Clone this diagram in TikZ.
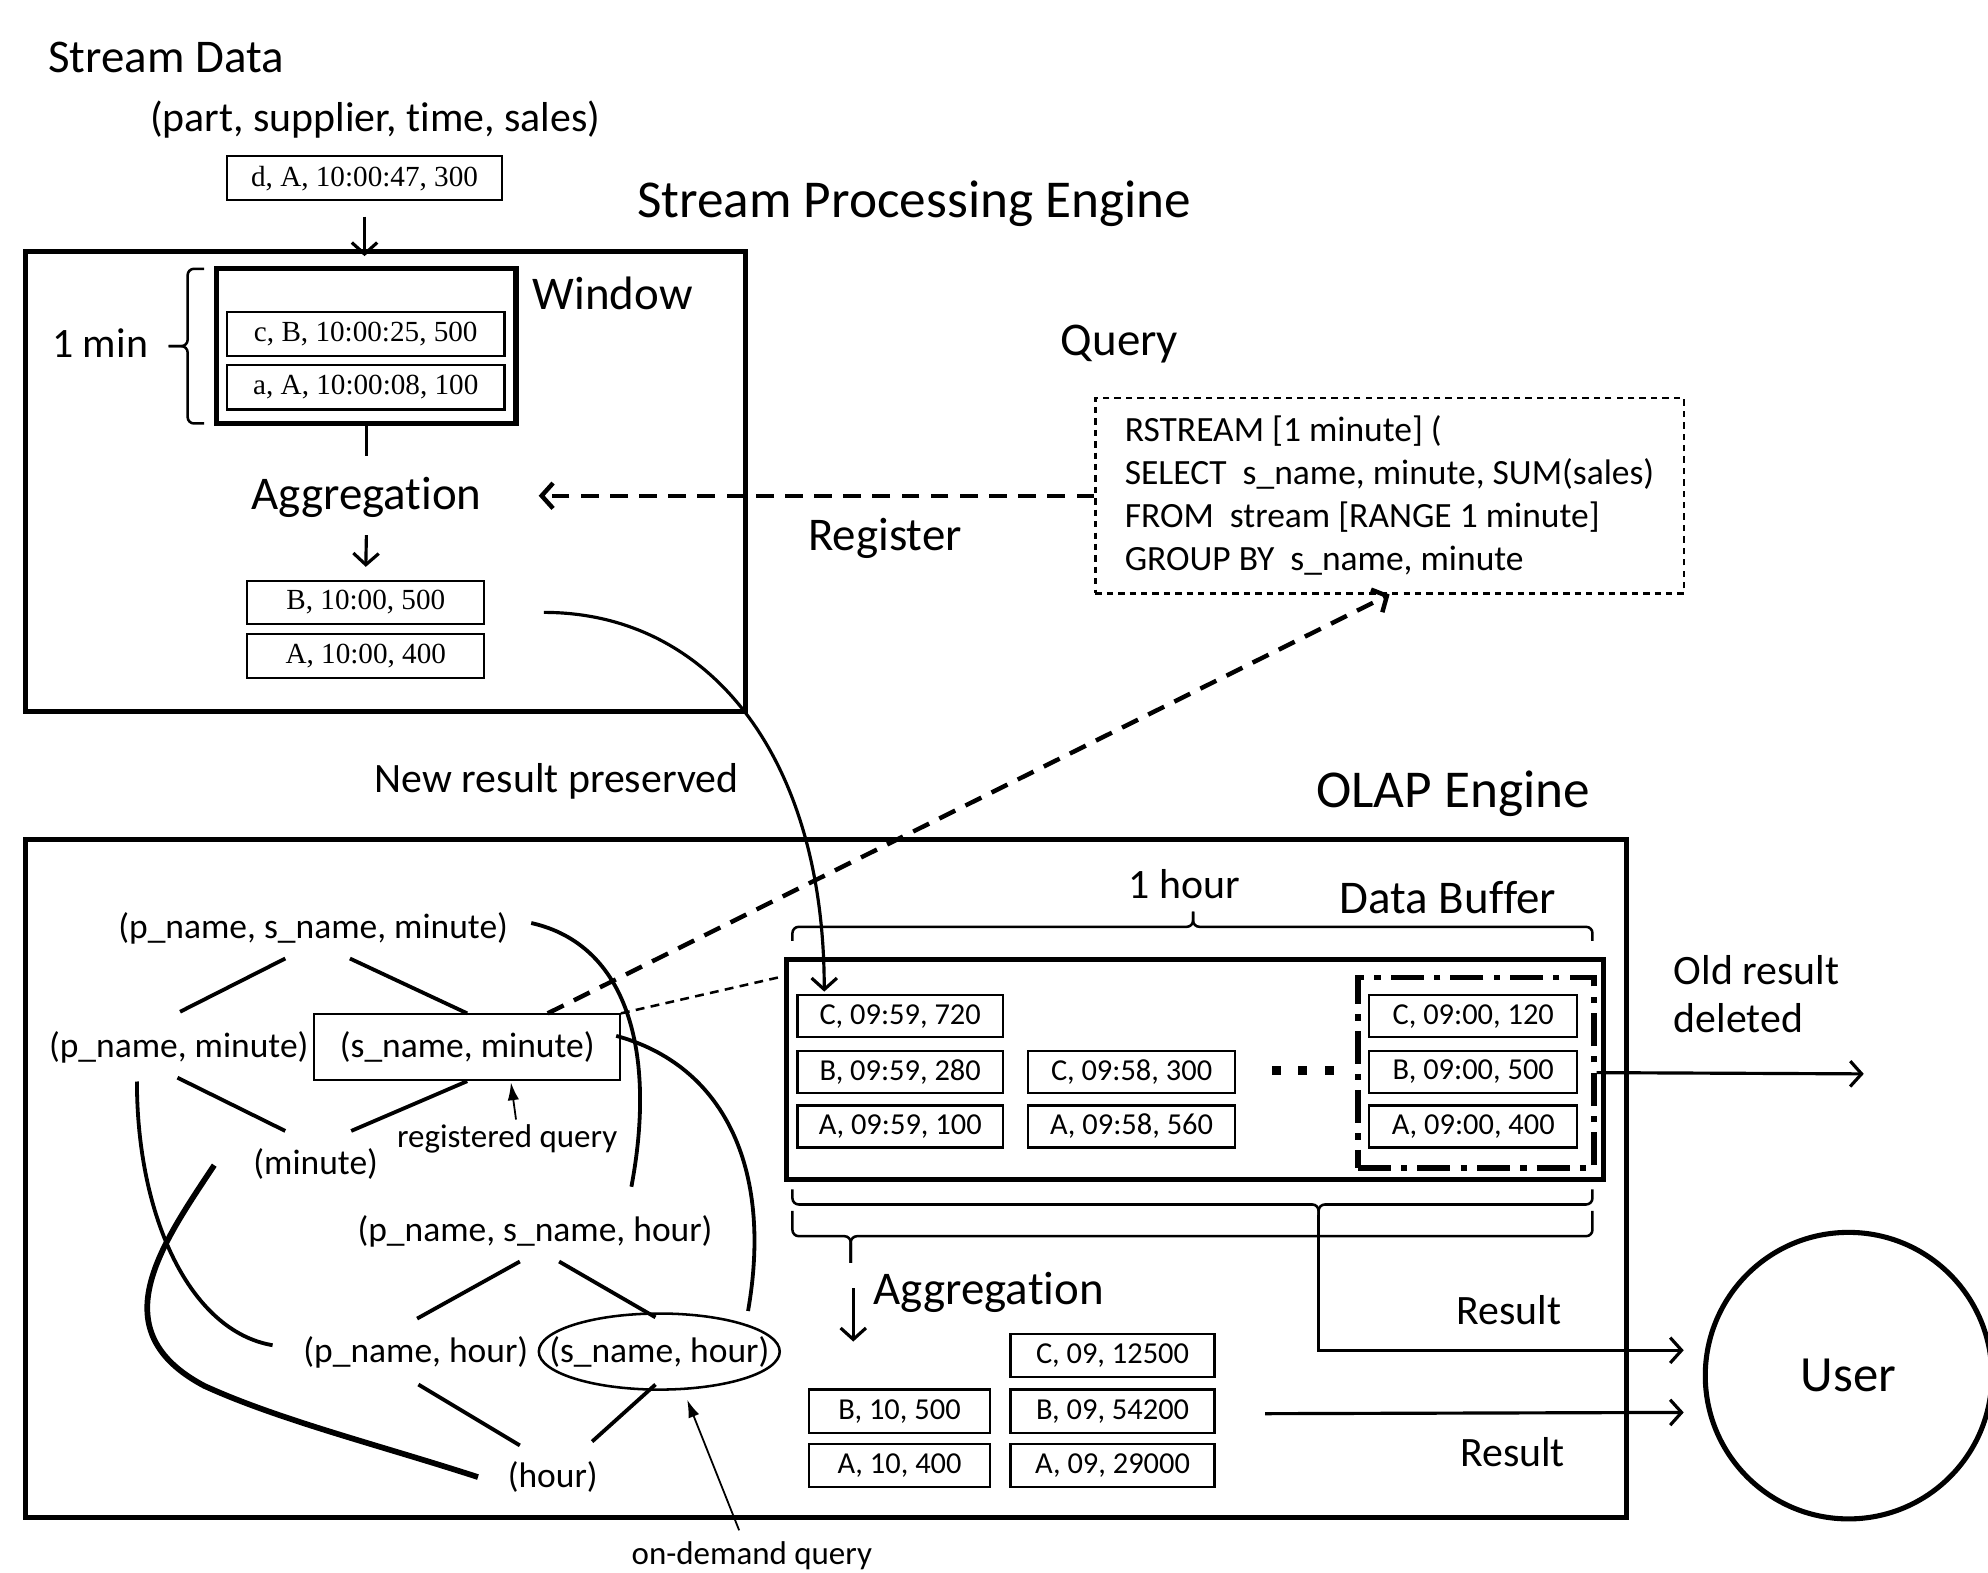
\documentclass[tikz,border=0pt]{standalone}
\usepackage{fontspec}
\setmainfont{Carlito}[Ligatures=NoCommon]
\newfontfamily\serifb{Liberation Serif}
\usetikzlibrary{arrows.meta,calc,shapes.geometric}
\begin{document}
\begin{tikzpicture}[x=1pt,y=-1pt,
  lbl/.style={inner sep=0, font=\fontsize{37}{44}\selectfont},
  mid/.style={inner sep=0, font=\fontsize{33}{38}\selectfont},
  ttl/.style={inner sep=0, font=\fontsize{42}{48}\selectfont},
  lat/.style={inner sep=0, font=\fontsize{28}{34}\selectfont},
  note/.style={inner sep=0, font=\fontsize{26}{30}\selectfont},
  frame/.style={draw, line width=4pt, inner sep=0},
  sbox/.style={draw, line width=1.8pt, inner sep=0, minimum height=35, font=\serifb\fontsize{23}{28}\selectfont},
  obox/.style={draw, line width=1.8pt, inner sep=0, minimum height=33, font=\fontsize{24}{28}\selectfont},
  arr/.style={-{Straight Barb[length=9pt,width=20pt]}, line width=2.5pt},
  darr/.style={-{Straight Barb[length=9pt,width=20pt]}, line width=3.5pt, dash pattern=on 14pt off 9pt},
  thinarr/.style={-{Latex[length=14pt,width=9pt]}, line width=1.4pt},
  edge/.style={line width=3pt},
  brc/.style={line width=2pt, rounded corners=5pt}
]
\useasboundingbox (0,0) rectangle (1568,1240);

% ---------- Stream processing engine ----------
\node[lbl, anchor=west] (sd) at (38,45) {Stream Data};
\node[mid] (schema) at (296,94) {(part, supplier, time, sales)};
\node[sbox, minimum width=217] (dnew) at (287.5,140.5) {d, A, 10:00:47, 300};
\node[ttl] (spet) at (721,161) {Stream Processing Engine};
\node[frame, minimum width=568, minimum height=363] (spe) at (304,379.5) {};
\draw[arr] ($(dnew.south)+(0,12)$) -- ($(dnew.south |- spe.north)+(0,6)$);
\node[frame, minimum width=236, minimum height=122] (win) at (289,273) {};
\node[lbl, anchor=west] (wint) at (420,231) {Window};
\node[sbox, minimum width=219] (cB) at (288.5,263.5) {c, B, 10:00:25, 500};
\node[sbox, minimum width=219] (aA) at (288.5,305.5) {a, A, 10:00:08, 100};
\node[mid] (onemin) at (79,271) {1 min};
% window brace
\draw[brc] (161,212) -- (148,212) -- (148,273) -- (133,273);
\draw[brc] (161,334) -- (148,334) -- (148,273) -- (133,273);
\draw[line width=2.5pt] (win.south) -- ++(0,24);
\node[lbl] (agg1) at (289,392) {Aggregation};
\node[sbox, minimum width=187, minimum height=34] (bB) at (288.5,475) {B, 10:00, 500};
\node[sbox, minimum width=187] (aAgg) at (288.5,517.5) {A, 10:00, 400};
\draw[arr] ($(agg1.center)+(0,30)$) -- ($(bB.north)+(0,-10)$);

% ---------- Query ----------
\node[lbl] (qt) at (883,271) {Query};
\node[draw, line width=1.8pt, dash pattern=on 5pt off 4pt, align=left, minimum width=464, minimum height=154, inner sep=0, font=\fontsize{28}{34}\selectfont] (query) at (1096,391) {RSTREAM [1 minute] (\\SELECT\ \ s\_name, minute, SUM(sales)\\FROM\ \ stream [RANGE 1 minute]\\GROUP BY\ \ s\_name, minute};
\draw[darr] (query.west) -- ($(query.west -| agg1.east)+(45,0)$);
\node[lbl] (reg) at (698,425) {Register};
\node[mid] (nrp) at (439,616) {New result preserved};

% ---------- OLAP engine ----------
\node[ttl] (olapt) at (1146,626) {OLAP Engine};
\node[frame, minimum width=1263, minimum height=535] (olap) at (651.5,929.5) {};
\node[mid] (oneh) at (934,697) {1 hour};
\node[lbl] (dbt) at (1142,708) {Data Buffer};
\node[frame, minimum width=645, minimum height=173] (buf) at (942.5,843.5) {};

\node[obox, minimum width=162] (c959) at (710,801.5) {C, 09:59, 720};
\node[obox, minimum width=162] (b959) at (710,845.5) {B, 09:59, 280};
\node[obox, minimum width=162] (a959) at (710,888.5) {A, 09:59, 100};
\node[obox, minimum width=163] (c958) at (892.5,845.5) {C, 09:58, 300};
\node[obox, minimum width=163] (a958) at (892.5,888.5) {A, 09:58, 560};
\node[obox, minimum width=164] (c900) at (1162,801.5) {C, 09:00, 120};
\node[obox, minimum width=164] (b900) at (1162,845.5) {B, 09:00, 500};
\node[obox, minimum width=164] (a900) at (1162,888.5) {A, 09:00, 400};
\foreach \x in {1003,1024,1045} \fill (\x,841) rectangle ++(7,7);
\node[draw, line width=4.5pt, dash pattern=on 26pt off 8pt on 5pt off 8pt, minimum width=186, minimum height=150, inner sep=0] (old) at (1164,846) {};

% braces of the data buffer
\draw[brc] (625,742) -- (625,731) -- (941,731) -- (941,719);
\draw[brc] (1256,742) -- (1256,731) -- (941,731) -- (941,719);
\draw[brc] (625,938) -- (625,950) -- (1040,950) -- (1040,962);
\draw[brc] (1256,938) -- (1256,950) -- (1040,950) -- (1040,962);
\draw[brc] (625,955) -- (625,975) -- (671,975) -- (671,996);
\draw[brc] (1256,955) -- (1256,975) -- (671,975) -- (671,996);

\node[mid, align=left, anchor=west] (oldt) at (1320,784) {Old result\\deleted};
\coordinate (del) at (1470,847);
\draw[arr] (old.east) -- (del);

\node[lbl, anchor=west] (agg2) at (689,1019) {Aggregation};
\node[obox, minimum width=143, minimum height=34] (b10b) at (709.5,1113) {B, 10, 500};
\node[obox, minimum width=143, minimum height=34] (a10a) at (709.5,1156) {A, 10, 400};
\node[obox, minimum width=161, minimum height=34] (c09) at (877.5,1069) {C, 09, 12500};
\node[obox, minimum width=161, minimum height=34] (b09) at (877.5,1113) {B, 09, 54200};
\node[obox, minimum width=161, minimum height=34] (a09) at (877.5,1156) {A, 09, 29000};
\coordinate (t2) at (673,1016);
\draw[arr] (t2) -- ($(t2 |- b10b.north)+(0,-37)$);

\node[draw, circle, line width=4pt, minimum size=226, inner sep=0, font=\fontsize{40}{48}\selectfont] (user) at (1458,1085) {User};
\coordinate (t1) at (1040,958);
\draw[arr] (t1) |- ($(user.west)+(-15,-20)$);
\draw[arr] ($(b09.east)+(39,2)$) -- ($(user.west)+(-15,29)$);
\node[mid] (res1) at (1190,1033) {Result};
\node[mid] (res2) at (1193,1145) {Result};

% ---------- lattice ----------
\node[lat] (pnsm) at (247,732) {(p\_name, s\_name, minute)};
\node[lat] (pm) at (141,826) {(p\_name, minute)};
\node[draw, line width=1.5pt, minimum width=241, minimum height=52, inner sep=0, font=\fontsize{28}{34}\selectfont] (sm) at (368.5,826) {(s\_name, minute)};
\node[lat] (mi) at (249,918) {(minute)};
\node[note] (rq) at (400,898) {registered query};
\node[lat] (pnsh) at (422,971) {(p\_name, s\_name, hour)};
\node[lat] (ph) at (328,1067) {(p\_name, hour)};
\node[lat] (sh) at (520,1066) {(s\_name, hour)};
\draw[line width=2pt] (sh.center) ellipse [x radius=95, y radius=30];
\node[lat] (hr) at (436,1165) {(hour)};
\node[note] (od) at (593,1227) {on-demand query};

\draw[edge] ([shift={(1,-28)}]pm.center) -- ([shift={(-22,24)}]pnsm.center);
\draw[edge] ([shift={(29,24)}]pnsm.center) -- (sm.north);
\draw[edge] ([shift={(-1,24)}]pm.center) -- ([shift={(-24,-26)}]mi.center);
\draw[edge] ([shift={(28,-26)}]mi.center) -- (sm.south);
\draw[edge] ([shift={(1,-27)}]ph.center) -- ([shift={(-12,24)}]pnsh.center);
\draw[edge] ([shift={(19,24)}]pnsh.center) -- ([shift={(-3,-27)}]sh.center);
\draw[edge] ([shift={(2,25)}]ph.center) -- ([shift={(-26,-25)}]hr.center);
\draw[edge] ([shift={(31,-28)}]hr.center) -- ([shift={(-3,26)}]sh.center);

\draw[edge] ([shift={(172,-4)}]pnsm.center) .. controls +(76,17) and +(20,-106) .. ([shift={(76,-35)}]pnsh.center);
\draw[edge] ([shift={(117.5,-9)}]sm.center) .. controls +(84,23) and +(20,-114) .. ([shift={(70,-32)}]sh.center);
\draw[edge] ([shift={(-33,27)}]pm.center) .. controls +(0,107) and +(-65,-11) .. ([shift={(-113,-6)}]ph.center);
\draw[line width=4.5pt] ([shift={(-80,1)}]mi.center) .. controls +(-44,66) and (80,1050) .. (161,1093) .. controls +(59,27) and +(-77,-25) .. ([shift={(-59,0)}]hr.center);

\draw[thinarr] ([shift={(7,-15)}]rq.center) -- ([shift={(34.5,1)}]sm.south);
\draw[thinarr] ([shift={(-10,-20)}]od.center) -- ([shift={(22,38)}]sh.center);

% ---------- cross connectors ----------
\draw[darr] ($(sm.north)+(63.5,0)$) -- (query.south);
\draw[line width=2pt, dash pattern=on 7pt off 5pt] (sm.north east) -- ($(buf.north west)+(0,15)$);
\draw[arr] ($(bB.east)+(46,8)$) .. controls +(132,0) and +(0,-183) .. ($(c959.north west)+(22,-2)$);
\end{tikzpicture}
\end{document}
